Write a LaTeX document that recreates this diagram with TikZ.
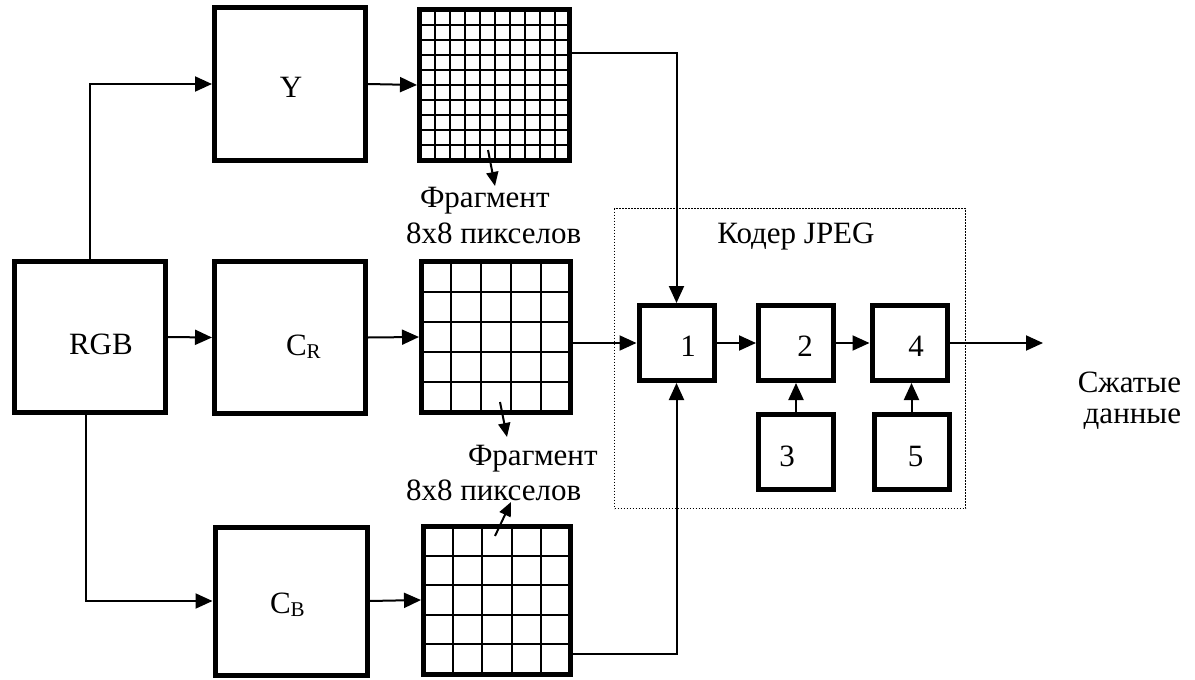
\documentclass[tikz,border=0pt]{standalone}
\usepackage{fontspec}
\setmainfont{Liberation Serif}
\usetikzlibrary{arrows.meta,calc}
\newcommand{\sbs}[1]{\raisebox{-3pt}{\fontsize{21}{21}\selectfont #1}}
\begin{document}
\begin{tikzpicture}[x=1pt,y=-1pt,
  box/.style={draw, line width=5pt, inner sep=0pt, minimum width=151pt, minimum height=151pt},
  small/.style={draw, line width=5pt, inner sep=0pt, minimum width=75pt, minimum height=75pt},
  gridbox/.style={box, path picture={
    \pgfmathtruncatemacro\gm{#1-1}
    \foreach \k in {1,...,\gm}{
      \draw[line width=2pt] ($(path picture bounding box.south west)!\k/#1!(path picture bounding box.south east)$) -- ($(path picture bounding box.north west)!\k/#1!(path picture bounding box.north east)$);
      \draw[line width=2pt] ($(path picture bounding box.south west)!\k/#1!(path picture bounding box.north west)$) -- ($(path picture bounding box.south east)!\k/#1!(path picture bounding box.north east)$);
    }}},
  arr/.style={line width=2pt, -{Triangle[length=17pt,width=15pt]}},
  farr/.style={line width=2pt, -{Triangle[length=14pt,width=12pt]}},
  lbl/.style={font=\fontsize{31}{35}\selectfont, inner sep=0pt, outer sep=0pt}
]
\useasboundingbox (0,0) rectangle (1195,680);
\fill[white] (0,0) rectangle (1195,680);

% encoder frame
\node[draw, line width=1.3pt, dash pattern=on 1.3pt off 1.7pt, inner sep=0pt,
      minimum width=351pt, minimum height=300pt, anchor=north west] (enc) at (614,208) {};

% main boxes
\node[box] (rgb) at (90,337) {};
\node[box, minimum height=153pt] (y) at (290,84) {};
\node[box, minimum height=152pt] (cr) at (290,337.5) {};
\node[box, minimum width=152pt, minimum height=148pt] (cb) at (291,601) {};

% grids
\node[gridbox=10, minimum width=150pt] (yg) at (494.5,85) {};
\node[gridbox=5, minimum width=149pt] (crg) at (496,337) {};
\node[gridbox=5, minimum width=147pt, minimum height=148pt] (cbg) at (497,600) {};

% encoder blocks
\node[small] (b1) at (676.5,343) {};
\node[small] (b2) at (796,343) {};
\node[small] (b4) at (909.5,343) {};
\node[small] (b3) at (796,452) {};
\node[small] (b5) at (911.5,452) {};

% labels
\node[lbl, anchor=base] (ly) at (291,97) {Y};
\node[lbl, anchor=base west] (lrgb) at (69,354) {RGB};
\node[lbl, anchor=base west] (lcr) at (286,355) {C\sbs{R}};
\node[lbl, anchor=base west] (lcb) at (270,613) {C\sbs{B}};
\node[lbl, anchor=base] (l1) at (688,356) {1};
\node[lbl, anchor=base] (l2) at (805,356) {2};
\node[lbl, anchor=base] (l4) at (916,356) {4};
\node[lbl, anchor=base] (l3) at (787,466) {3};
\node[lbl, anchor=base] (l5) at (915.5,466) {5};
\node[lbl, anchor=base] (lenc) at (796,243) {Кодер JPEG};
\node[lbl, anchor=base west] (fa1) at (420,207) {Фрагмент};
\node[lbl, anchor=base west] (fb1) at (406,243) {8x8 пикселов};
\node[lbl, anchor=base west] (fa2) at (468,465) {Фрагмент};
\node[lbl, anchor=base west] (fb2) at (406,500) {8x8 пикселов};
\node[lbl, anchor=base east] (o1) at (1181,392) {Сжатые};
\node[lbl, anchor=base east] (o2) at (1181,423) {данные};

% connectors
\draw[arr] (rgb.north) |- (y.west);
\draw[arr] (rgb.east) -- (cr.west);
\draw[arr] ($(rgb.south)+(-4,0)$) |- (cb.west);
\draw[arr] (y.east) -- (yg.west);
\draw[arr] (cr.east) -- (crg.west);
\draw[arr] (cb.east) -- (cbg.west);
\draw[arr] (yg.east |- 0,53) -| (b1.north);
\draw[arr] (crg.east |- b1.west) -- (b1.west);
\draw[arr] (cbg.east |- 0,654) -| (b1.south);
\draw[arr] (b1.east) -- (b2.west);
\draw[arr] (b2.east) -- (b4.west);
\draw[arr] (b3.north) -- (b2.south);
\draw[arr] (b5.north) -- (b4.south -| b5.north);
\coordinate (out) at (1043,343);
\draw[arr] (b4.east) -- (out);

% fragment pointers
\coordinate (f1s) at (488,150);
\coordinate (f1e) at (495,186);
\coordinate (f2s) at (500,402);
\coordinate (f2e) at (507,437);
\coordinate (f3s) at (495,536);
\coordinate (f3e) at (511,502);
\draw[farr] (f1s) -- (f1e);
\draw[farr] (f2s) -- (f2e);
\draw[farr] (f3s) -- (f3e);
\end{tikzpicture}
\end{document}
